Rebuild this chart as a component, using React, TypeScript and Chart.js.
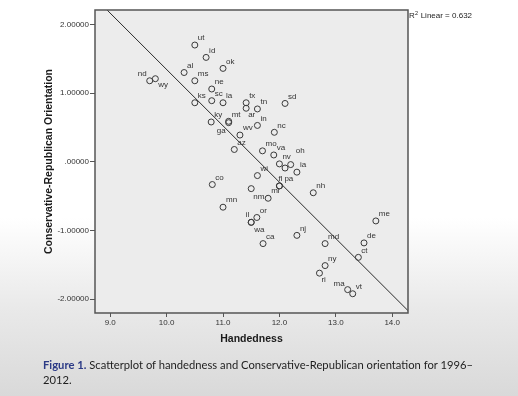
import React, { useEffect, useRef } from "react";
import { Chart, registerables } from "chart.js";
Chart.register(...registerables);

// ---- data ----
const states = ["ut","id","ok","al","ms","nd","wy","ne","sc","la","ks","tx","ar","tn","ky","mt","ga","wv","in","az","mo","nc","sd","va","nv","oh","","ia","wi","co","fl","pa","nh","nm","mi","mn","or","il","wa","ca","nj","md","ny","me","de","ct","ri","ma","vt"];
const handedness = [10.50,10.70,11.00,10.31,10.50,9.70,9.80,10.80,10.80,11.00,10.50,11.41,11.41,11.61,10.79,11.10,11.10,11.30,11.61,11.20,11.70,11.91,12.10,11.90,12.00,12.20,12.10,12.31,11.61,10.81,12.00,12.00,12.60,11.50,11.80,11.00,11.60,11.50,11.50,11.71,12.31,12.81,12.81,13.71,13.50,13.40,12.71,13.21,13.30];
const orientation = [1.70,1.52,1.36,1.30,1.18,1.18,1.21,1.06,0.89,0.86,0.86,0.86,0.78,0.77,0.58,0.59,0.57,0.39,0.53,0.18,0.16,0.43,0.85,0.10,-0.03,-0.04,-0.09,-0.15,-0.20,-0.33,-0.35,-0.35,-0.45,-0.39,-0.53,-0.66,-0.81,-0.88,-0.88,-1.19,-1.07,-1.19,-1.51,-0.86,-1.18,-1.39,-1.62,-1.86,-1.92];
const xTicks = [9, 10, 11, 12, 13, 14];
const yTicks = [-2, -1, 0, 1, 2];
const xRange = [8.73, 14.28];
const yRange = [-2.2, 2.21];
const fitIntercept = 9.544;
const fitSlope = -0.82;
const r2Linear = "0.632";

// label placement exceptions: [align, dx, dy]
const labelPlace: Record<string, [CanvasTextAlign, number, number]> = {
  nd: ["right", -3, -7],
  wy: ["left", 3, 6],
  ar: ["left", 2, 7],
  ga: ["right", -3, 8],
  nm: ["left", 2, 8],
  il: ["right", -2, -8],
  wa: ["left", 3, 7],
  ri: ["left", 2, 7],
  ma: ["right", -3, -6],
  oh: ["left", 5, -14],
  fl: ["left", -1, -7],
  pa: ["left", 5, -7],
};
const defaultPlace: [CanvasTextAlign, number, number] = ["left", 3, -7];

const FONT = "'Liberation Sans', Arial, sans-serif";

const framePlugin = {
  id: "frame",
  beforeDatasetsDraw(chart: any) {
    const { ctx, chartArea: a } = chart;
    ctx.save();
    ctx.fillStyle = "#ececec";
    ctx.fillRect(a.left, a.top, a.right - a.left, a.bottom - a.top);
    ctx.restore();
  },
  afterDraw(chart: any) {
    const { ctx, chartArea: a } = chart;
    ctx.save();
    ctx.strokeStyle = "#555";
    ctx.lineWidth = 1.5;
    ctx.strokeRect(a.left, a.top, a.right - a.left, a.bottom - a.top);
    // point labels
    const meta = chart.getDatasetMeta(0);
    ctx.font = `8px ${FONT}`;
    ctx.fillStyle = "#333";
    ctx.textBaseline = "middle";
    meta.data.forEach((el: any, i: number) => {
      const name = states[i];
      if (!name) return;
      const [align, dx, dy] = labelPlace[name] || defaultPlace;
      ctx.textAlign = align;
      ctx.fillText(name, el.x + dx, el.y + dy);
    });
    // R2 label
    const rx = a.right + 1;
    const ry = a.top + 6;
    ctx.textAlign = "left";
    ctx.fillStyle = "#222";
    ctx.font = `8px ${FONT}`;
    ctx.fillText("R", rx, ry);
    const wR = ctx.measureText("R").width;
    ctx.font = `5.5px ${FONT}`;
    ctx.fillText("2", rx + wR + 0.3, ry - 3);
    const w2 = ctx.measureText("2").width;
    ctx.font = `8px ${FONT}`;
    ctx.fillText(" Linear = " + r2Linear, rx + wR + w2 + 0.6, ry);
    ctx.restore();
  },
};

export default function App() {
  const ref = useRef<HTMLCanvasElement | null>(null);
  useEffect(() => {
    document.body.style.margin = "0";
    const canvas = ref.current!;
    const points = handedness.map((x, i) => ({ x, y: orientation[i] }));
    const fit = xRange.map((x) => ({ x, y: fitIntercept + fitSlope * x }));
    const chart = new Chart(canvas, {
      type: "scatter",
      data: {
        datasets: [
          {
            data: points,
            pointStyle: "circle",
            pointRadius: 3,
            pointHoverRadius: 3,
            borderWidth: 1,
            borderColor: "#3a3a3a",
            backgroundColor: "rgba(0,0,0,0)",
          } as any,
          {
            type: "line",
            data: fit,
            borderColor: "#2a2a2a",
            borderWidth: 1,
            pointRadius: 0,
            fill: false,
          } as any,
        ],
      },
      options: {
        animation: false,
        responsive: false,
        devicePixelRatio: 1,
        events: [],
        layout: { padding: { left: 0, right: 110, top: 10, bottom: 0 } },
        plugins: { legend: { display: false }, tooltip: { enabled: false } },
        scales: {
          x: {
            type: "linear",
            min: xRange[0],
            max: xRange[1],
            afterBuildTicks: (s: any) => { s.ticks = xTicks.map((v) => ({ value: v })); },
            afterFit: (s: any) => { s.height = 83; },
            ticks: {
              font: { size: 8, family: FONT },
              color: "#333",
              padding: 1,
              maxRotation: 0,
              callback: (v: any) => Number(v).toFixed(1),
            },
            grid: { drawOnChartArea: false, drawTicks: true, tickLength: 4, tickColor: "#555" },
            border: { display: false },
            title: {
              display: true,
              text: "Handedness",
              font: { size: 10.5, weight: "bold", family: FONT },
              color: "#1a1a1a",
              padding: { top: 0, bottom: 50.7 },
            },
          },
          y: {
            type: "linear",
            min: yRange[0],
            max: yRange[1],
            afterBuildTicks: (s: any) => { s.ticks = yTicks.map((v) => ({ value: v })); },
            afterFit: (s: any) => { s.width = 95; },
            ticks: {
              font: { size: 8, family: FONT },
              color: "#333",
              padding: 1,
              callback: (v: any) => (Number(v) === 0 ? ".00000" : Number(v).toFixed(5)),
            },
            grid: { drawOnChartArea: false, drawTicks: true, tickLength: 5, tickColor: "#555" },
            border: { display: false },
            title: {
              display: true,
              text: "Conservative-Republican Orientation",
              font: { size: 10.5, weight: "bold", family: FONT },
              color: "#1a1a1a",
              padding: { top: 42.7, bottom: 0 },
            },
          },
        },
      },
      plugins: [framePlugin],
    });
    return () => chart.destroy();
  }, []);

  return (
    <div
      style={{
        position: "fixed",
        left: 0,
        top: 0,
        width: 518,
        height: 396,
        overflow: "hidden",
        background: "linear-gradient(180deg, #ffffff 0%, #ffffff 55%, #e9e9e9 78%, #d9d9d9 100%)",
      }}
    >
      <canvas ref={ref} width={518} height={396} style={{ position: "absolute", left: 0, top: 0 }} />
      <div
        style={{
          position: "absolute",
          left: 43,
          top: 357,
          whiteSpace: "nowrap",
          fontFamily: "Lato, 'Open Sans', sans-serif",
          fontSize: 12,
          lineHeight: "15px",
          color: "#1e1e1e",
          transform: "scaleX(0.935)",
          transformOrigin: "0 0",
        }}
      >
        <span style={{ fontWeight: "bold", color: "#2b3a86" }}>Figure 1.</span> Scatterplot of handedness and
        Conservative-Republican orientation for 1996–
        <br />
        2012.
      </div>
    </div>
  );
}
